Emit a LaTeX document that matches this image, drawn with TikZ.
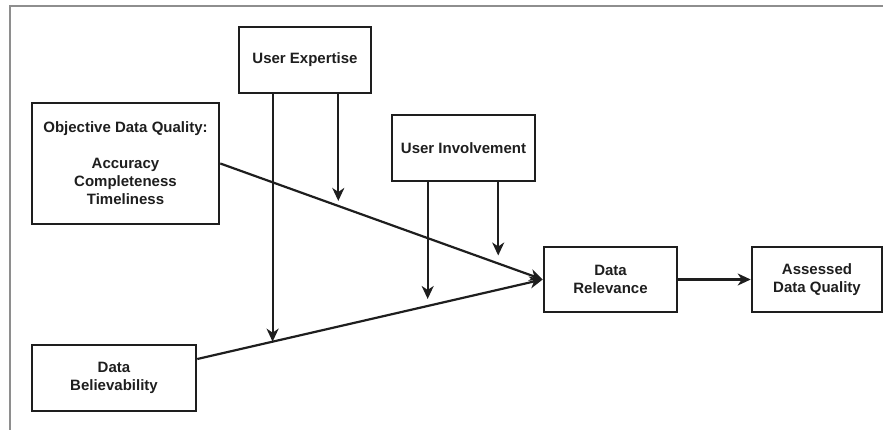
\documentclass[tikz,border=0pt]{standalone}
\usepackage{fontspec}
\setmainfont{Liberation Sans}
\usetikzlibrary{arrows.meta,calc}
\definecolor{ink}{HTML}{1E1E1E}
\definecolor{framegray}{HTML}{8E8E8E}
\begin{document}
\begin{tikzpicture}[x=1pt,y=-1pt,
  box/.style={draw=ink,line width=2.6pt,rectangle,inner sep=0pt,align=center,
    text=ink,font=\bfseries\fontsize{15}{18}\selectfont},
  conn/.style={draw=ink,line width=2.2pt},
  arr/.style={conn,-{Stealth[length=13pt,width=12pt,inset=4pt]}}]
\useasboundingbox (0,0) rectangle (883,430);
% open frame along the top and left
\draw[framegray,line width=1.8pt] (10,430) -- (10,6) -- (883,6);

% boxes
\node[box,minimum width=132pt,minimum height=66pt] (ue) at (305,60) {User Expertise};
\node[box,minimum width=187pt,minimum height=121pt] (odq) at (125.5,163.5)
  {Objective Data Quality:\\[18pt]Accuracy\\Completeness\\Timeliness};
\node[box,minimum width=143pt,minimum height=66pt] (ui) at (463.5,148) {User Involvement};
\node[box,minimum width=164pt,minimum height=66pt] (db) at (114,378) {Data\\Believability};
\node[box,minimum width=133pt,minimum height=65pt] (dr) at (610.5,279.5) {Data\\Relevance};
\node[box,minimum width=130pt,minimum height=65pt] (adq) at (817,279.5) {Assessed\\Data Quality};

% main paths into Data Relevance
\coordinate (dbout) at ([yshift=19pt]db.east);
\draw[arr] (odq.east) -- (dr.west);
\draw[arr] (dbout) -- (dr.west);
\draw[arr] (dr.east) -- (adq.west);

% moderating arrows onto the main paths
\coordinate (m1) at ($(dbout)!0.218!(dr.west)$);
\coordinate (m2) at ($(odq.east)!0.366!(dr.west)$);
\coordinate (m3) at ($(dbout)!0.667!(dr.west)$);
\coordinate (m4) at ($(odq.east)!0.862!(dr.west)$);
\draw[arr] (m1 |- ue.south) -- (m1);
\draw[arr,shorten >=5pt] (m2 |- ue.south) -- (m2);
\draw[arr,shorten >=7pt] (m3 |- ui.south) -- (m3);
\draw[arr,shorten >=8pt] (m4 |- ui.south) -- (m4);
\end{tikzpicture}
\end{document}
